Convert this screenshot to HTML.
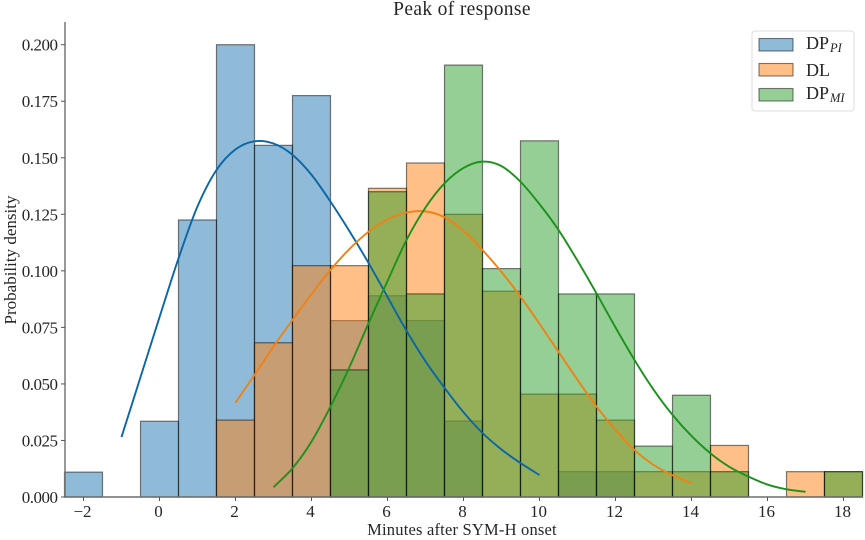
<!DOCTYPE html>
<html lang="en">
<head>
<meta charset="utf-8">
<title>Peak of response</title>
<style>
html,body{margin:0;padding:0;background:#fff;}
body{width:865px;height:540px;overflow:hidden;}
svg{display:block;filter:blur(.3px);}
text{font-family:"Liberation Serif",serif;fill:#262626;}
</style>
</head>
<body>
<svg id="chart" width="865" height="540" viewBox="0 0 865 540">
  <g id="bars"></g>
  <g id="curves"></g>
  <line x1="65" y1="22" x2="65" y2="497.5" stroke="#6e6e6e" stroke-width="1.4"/>
  <line x1="64.5" y1="497" x2="863" y2="497" stroke="#6e6e6e" stroke-width="1.4"/>
  <g id="ticks"></g>
  <text x="462" y="15" font-size="19.5" letter-spacing=".35" text-anchor="middle">Peak of response</text>
  <text x="462" y="535" font-size="16.5" letter-spacing=".2" text-anchor="middle">Minutes after SYM-H onset</text>
  <text transform="translate(16 260) rotate(-90)" font-size="17" text-anchor="middle">Probability density</text>
  <g>
    <rect x="752" y="31" width="102" height="80" rx="3" fill="#fff" stroke="#dcdcdc" stroke-width="1"/>
    <rect x="759" y="38.5" width="34" height="12.5" fill="#1f77b4" fill-opacity=".5" stroke="#000" stroke-opacity=".5" stroke-width="1.1"/>
    <rect x="759" y="63.5" width="34" height="12.5" fill="#ff7f0e" fill-opacity=".5" stroke="#000" stroke-opacity=".5" stroke-width="1.1"/>
    <rect x="759" y="88.5" width="34" height="12.5" fill="#2ca02c" fill-opacity=".5" stroke="#000" stroke-opacity=".5" stroke-width="1.1"/>
    <text x="806" y="49" font-size="18">DP<tspan font-size="12.5" font-style="italic" dy="3" dx="1">PI</tspan></text>
    <text x="806" y="76" font-size="18">DL</text>
    <text x="806" y="99" font-size="18">DP<tspan font-size="12.5" font-style="italic" dy="3" dx="1">MI</tspan></text>
  </g>
</svg>
<script>
// Histogram bins (minutes) and densities
var binCenters = [-2,-1,0,1,2,3,4,5,6,7,8,9,10,11,12,13,14,15,16,17,18];
var dpPiDensity = [0.0110,0,0.0335,0.1225,0.2000,0.1555,0.1775,0.0780,0.0890,0.0780,0.0336,0,0,0.0112,0.0112,0,0,0,0,0,0];
var dlDensity   = [0,0,0,0,0.0340,0.0682,0.1023,0.1023,0.1365,0.1477,0.1250,0.0910,0.0455,0.0455,0.0340,0.0112,0.0112,0.0228,0,0.0112,0.0112];
var dpMiDensity = [0,0,0,0,0,0,0,0.0562,0.1350,0.0898,0.1910,0.1010,0.1575,0.0898,0.0898,0.0225,0.0450,0.0112,0,0,0.0112];

// Density curves
var dpPiCurveX = [-1,-0.5,0,0.5,1,1.5,2,2.5,3,3.5,4,4.5,5,5.5,6,6.5,7,7.5,8,8.5,9,9.5,10];
var dpPiCurveY = [0.0265,0.053,0.0795,0.1055,0.1285,0.1446,0.1537,0.1573,0.1563,0.1513,0.1425,0.1306,0.1175,0.1035,0.0885,0.0735,0.060,0.0483,0.0375,0.0283,0.021,0.015,0.0097];
var dlCurveX = [2,2.5,3,3.5,4,4.5,5,5.5,6,6.5,7,7.5,8,8.5,9,9.5,10,10.5,11,11.5,12,12.5,13,13.5,14];
var dlCurveY = [0.0417,0.054,0.0665,0.0783,0.0897,0.1004,0.1097,0.1173,0.1227,0.1258,0.1263,0.1237,0.1176,0.1092,0.0995,0.0886,0.0766,0.0642,0.0518,0.040,0.0297,0.0208,0.0142,0.0096,0.0061];
var dpMiCurveX = [3,3.5,4,4.5,5,5.5,6,6.5,7,7.5,8,8.5,9,9.5,10,10.5,11,11.5,12,12.5,13,13.5,14,14.5,15,15.5,16,16.5,17];
var dpMiCurveY = [0.0043,0.0127,0.0245,0.040,0.0575,0.0768,0.0955,0.1136,0.1280,0.1387,0.1455,0.1483,0.1463,0.1394,0.1295,0.1181,0.1045,0.0900,0.0750,0.0606,0.0475,0.0363,0.0270,0.0193,0.0133,0.009,0.0055,0.0034,0.0023];

// Tick labels
var xTickValues = [-2,0,2,4,6,8,10,12,14,16,18];
var yTickValues = [0,0.025,0.05,0.075,0.1,0.125,0.15,0.175,0.2];

var NS = 'http://www.w3.org/2000/svg';
var binWidth = 1;
function xScale(v){ return 159.5 + 38 * v; }
function yScale(v){ return 497 - 2261.5 * v; }

var barsGroup = document.getElementById('bars');
var curvesGroup = document.getElementById('curves');
var ticksGroup = document.getElementById('ticks');

function drawBars(values, color, seriesName){
  values.forEach(function(v, i){
    var left = xScale(binCenters[i] - binWidth / 2);
    var right = xScale(binCenters[i] + binWidth / 2);
    var r = document.createElementNS(NS, 'rect');
    
    
    r.setAttribute('x', left);
    r.setAttribute('y', yScale(v));
    r.setAttribute('width', right - left);
    r.setAttribute('height', yScale(0) - yScale(v));
    r.setAttribute('fill', color);
    r.setAttribute('fill-opacity', '0.5');
    r.setAttribute('stroke', '#000');
    r.setAttribute('stroke-opacity', '0.5');
    r.setAttribute('stroke-width', '1.2');
    barsGroup.appendChild(r);
  });
}

function drawCurve(xs, ys, color, seriesName){
  var pts = xs.map(function(x, i){ return [xScale(x), yScale(ys[i])]; });
  var d = 'M' + pts[0][0] + ' ' + pts[0][1];
  for (var i = 0; i < pts.length - 1; i++){
    var p0 = pts[Math.max(i - 1, 0)], p1 = pts[i], p2 = pts[i + 1], p3 = pts[Math.min(i + 2, pts.length - 1)];
    var seg = p2[0] - p1[0];
    var m1 = (p2[1] - p0[1]) / (p2[0] - p0[0]);
    var m2 = (p3[1] - p1[1]) / (p3[0] - p1[0]);
    d += 'C' + (p1[0] + seg / 3) + ' ' + (p1[1] + m1 * seg / 3) + ' ' +
         (p2[0] - seg / 3) + ' ' + (p2[1] - m2 * seg / 3) + ' ' + p2[0] + ' ' + p2[1];
  }
  var path = document.createElementNS(NS, 'path');
  
  
  path.setAttribute('d', d);
  path.setAttribute('fill', 'none');
  path.setAttribute('stroke', color);
  path.setAttribute('stroke-width', '1.9');
  curvesGroup.appendChild(path);
}

drawBars(dpPiDensity, '#1f77b4', 'dp-pi');
drawBars(dlDensity, '#ff7f0e', 'dl');
drawBars(dpMiDensity, '#2ca02c', 'dp-mi');
drawCurve(dpPiCurveX, dpPiCurveY, '#0a66a6', 'dp-pi');
drawCurve(dlCurveX, dlCurveY, '#f08214', 'dl');
drawCurve(dpMiCurveX, dpMiCurveY, '#1c921c', 'dp-mi');

xTickValues.forEach(function(v){
  var t = document.createElementNS(NS, 'line');
  
  
  t.setAttribute('x1', xScale(v));
  t.setAttribute('x2', xScale(v));
  t.setAttribute('y1', 497);
  t.setAttribute('y2', 501);
  t.setAttribute('stroke', '#555');
  t.setAttribute('stroke-width', '1');
  ticksGroup.appendChild(t);
  var l = document.createElementNS(NS, 'text');
  
  
  l.setAttribute('x', xScale(v) - 1);
  l.setAttribute('y', 517);
  l.setAttribute('font-size', '17');
  l.setAttribute('text-anchor', 'middle');
  l.textContent = v < 0 ? '\u2212' + Math.abs(v) : String(v);
  ticksGroup.appendChild(l);
});

yTickValues.forEach(function(v){
  var t = document.createElementNS(NS, 'line');
  
  
  t.setAttribute('x1', 61);
  t.setAttribute('x2', 65);
  t.setAttribute('y1', yScale(v));
  t.setAttribute('y2', yScale(v));
  t.setAttribute('stroke', '#555');
  t.setAttribute('stroke-width', '1');
  ticksGroup.appendChild(t);
  var l = document.createElementNS(NS, 'text');
  
  
  l.setAttribute('x', 57.5);
  l.setAttribute('y', yScale(v) + 6);
  l.setAttribute('font-size', '17');
  l.setAttribute('letter-spacing', '-0.5');
  l.setAttribute('text-anchor', 'end');
  l.textContent = v.toFixed(3);
  ticksGroup.appendChild(l);
});
</script>
</body>
</html>
